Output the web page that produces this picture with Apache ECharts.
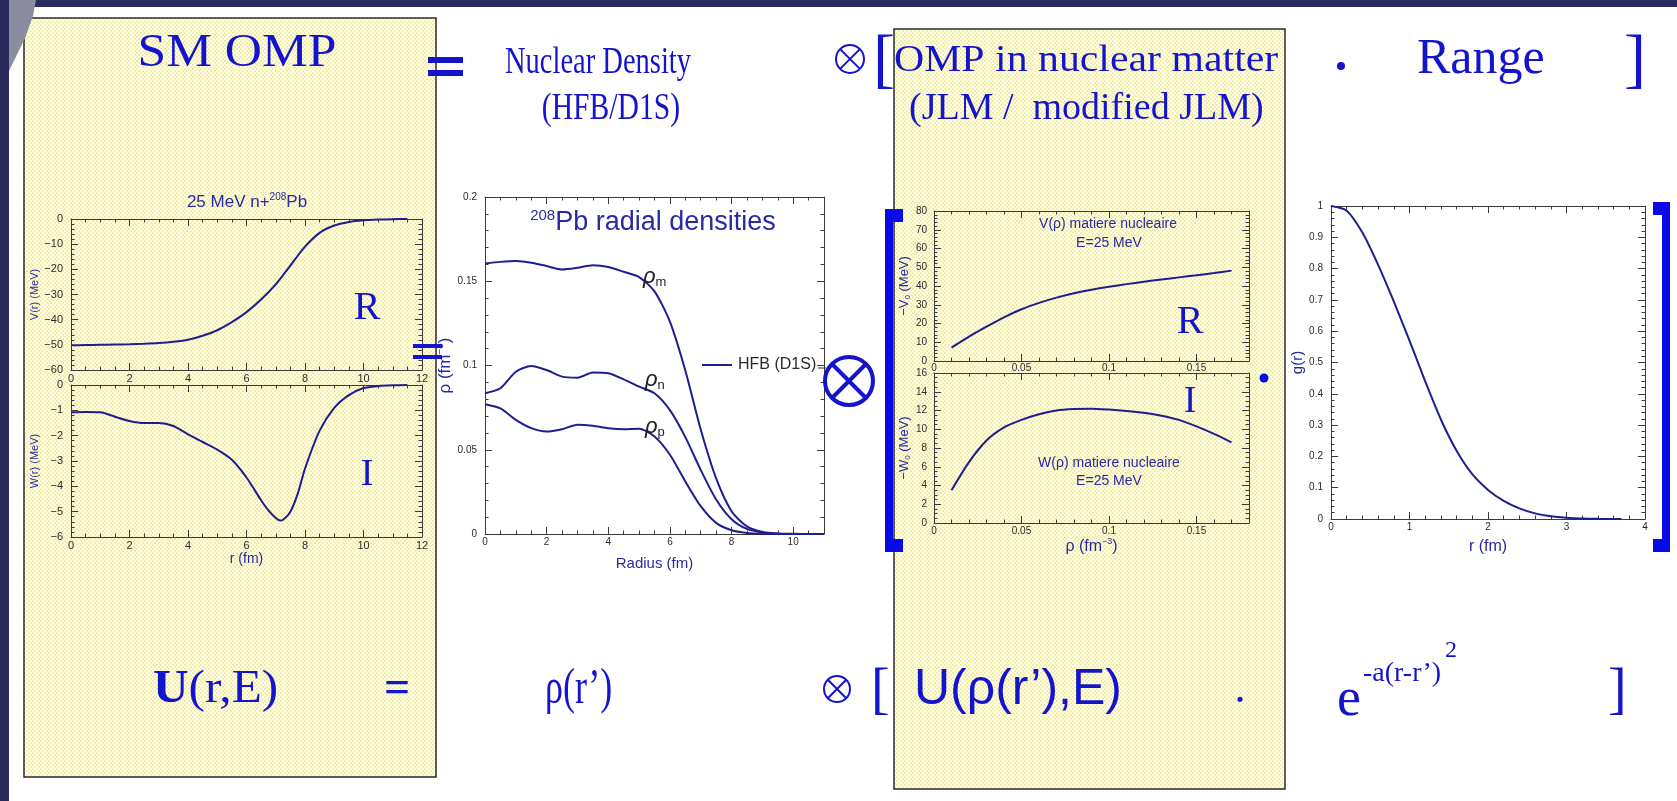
<!DOCTYPE html>
<html>
<head>
<meta charset="utf-8">
<title>SM OMP</title>
<script src="https://cdn.jsdelivr.net/npm/echarts@6/dist/echarts.min.js"></script>
<style>
  html, body { margin: 0; padding: 0; background: #ffffff; }
  #chart { width: 1677px; height: 801px; }
</style>
</head>
<body>
<div id="chart"></div>
<script>
// ---- V(r), W(r): 25 MeV n + 208Pb optical potential ----
const potR = [0, 0.5, 1, 1.5, 2, 2.5, 3, 3.5, 4, 4.5, 5, 5.5, 6, 6.5, 7, 7.5, 8, 8.5, 9, 9.5, 10, 10.5, 11, 11.5];
const potV = [-50.2, -50.1, -50.0, -49.9, -49.8, -49.6, -49.3, -48.8, -48.0, -46.4, -44.2, -41.0, -37.0, -32.0, -26.0, -18.5, -11.0, -5.5, -2.6, -1.2, -0.5, -0.2, -0.05, 0];
const potWR = [0, 0.5, 1, 1.5, 2, 2.5, 3, 3.5, 4, 4.5, 5, 5.5, 6, 6.5, 6.75, 7, 7.15, 7.25, 7.5, 7.75, 8, 8.5, 9, 9.5, 10, 10.5, 11, 11.5];
const potW = [-1.08, -1.07, -1.08, -1.25, -1.42, -1.5, -1.5, -1.62, -1.95, -2.25, -2.55, -2.95, -3.65, -4.55, -4.95, -5.25, -5.35, -5.32, -5.0, -4.3, -3.3, -1.8, -0.9, -0.4, -0.12, -0.04, -0.01, 0];

// ---- 208Pb radial densities (HFB D1S) ----
const densR = [0, 0.5, 1, 1.5, 2, 2.5, 3, 3.5, 4, 4.5, 5, 5.5, 6, 6.5, 7, 7.5, 8, 8.5, 9, 9.5, 10, 10.5, 11];
const rhoM = [0.1605, 0.1615, 0.162, 0.161, 0.159, 0.157, 0.158, 0.1595, 0.1585, 0.1556, 0.1525, 0.144, 0.126, 0.097, 0.062, 0.033, 0.0135, 0.0045, 0.0012, 0.0003, 0.0001, 0, 0];
const rhoN = [0.0835, 0.0865, 0.0963, 0.0997, 0.0973, 0.0934, 0.0928, 0.0958, 0.0954, 0.0918, 0.0875, 0.0835, 0.0735, 0.0575, 0.038, 0.0205, 0.0088, 0.003, 0.0009, 0.0002, 0.00005, 0, 0];
const rhoP = [0.077, 0.0745, 0.0677, 0.0628, 0.0608, 0.0622, 0.0648, 0.0642, 0.0628, 0.0622, 0.0624, 0.0578, 0.047, 0.0312, 0.0165, 0.0066, 0.0022, 0.0006, 0.0001, 0, 0, 0, 0];

// ---- JLM nuclear-matter potential at E = 25 MeV ----
const jlmRho = [0.01, 0.02, 0.03, 0.04, 0.05, 0.06, 0.07, 0.08, 0.09, 0.10, 0.11, 0.12, 0.13, 0.14, 0.15, 0.16, 0.17];
const jlmV = [7.1, 13.0, 18.3, 23.3, 27.6, 31.0, 33.8, 36.1, 38.0, 39.6, 41.0, 42.3, 43.5, 44.6, 45.7, 46.9, 48.2];
const jlmW = [3.5, 6.5, 8.8, 10.2, 11.0, 11.6, 12.0, 12.15, 12.2, 12.1, 11.95, 11.75, 11.45, 11.0, 10.3, 9.5, 8.6];

// ---- range function g(r) ----
const rangeR = [0, 0.2, 0.4, 0.6, 0.8, 1.0, 1.2, 1.4, 1.6, 1.8, 2.0, 2.2, 2.4, 2.6, 2.8, 3.0, 3.2, 3.4, 3.6, 3.7];
const rangeG = [1, 0.985, 0.915, 0.812, 0.695, 0.57, 0.44, 0.318, 0.218, 0.143, 0.093, 0.058, 0.034, 0.018, 0.009, 0.004, 0.0015, 0.0005, 0.0002, 0];

// ---- tick label text ----
const potVTicks = ['0', '−10', '−20', '−30', '−40', '−50', '−60'];
const potWTicks = ['0', '−1', '−2', '−3', '−4', '−5', '−6'];

const zip = (xs, ys) => xs.map((x, i) => [x, ys[i]]);

const SERIF = '"Liberation Serif", "Times New Roman", serif';
const SANS = '"Liberation Sans", Arial, sans-serif';
const BLUE = '#1414cc';
const PLOTBLUE = '#2a2aa0';
const LINE = '#1e1e8e';
const FRAME = '#3a3a3a';

// fine dotted yellow fill of the slide boxes
const pat = document.createElement('canvas');
pat.width = 4; pat.height = 4;
const pc = pat.getContext('2d');
pc.fillStyle = '#fffef0'; pc.fillRect(0, 0, 4, 4);
pc.fillStyle = '#f4efa6'; pc.fillRect(0, 0, 2, 2); pc.fillRect(2, 2, 2, 2);
const dotted = { image: pat, repeat: 'repeat' };

const grids = [
  { left: 71, top: 219, width: 351, height: 151 },   // V(r)
  { left: 71, top: 385, width: 351, height: 152 },   // W(r)
  { left: 485, top: 197, width: 339, height: 337 },  // densities
  { left: 934, top: 211, width: 315, height: 150 },  // V(rho)
  { left: 934, top: 373, width: 315, height: 150 },  // W(rho)
  { left: 1331, top: 206, width: 314, height: 313 }  // g(r)
];

const xAxes = [];
const yAxes = [];

function frameAxis(gi, c, pos, labelled) {
  return {
    type: 'value', gridIndex: gi, position: pos,
    min: c.min, max: c.max, interval: c.interval,
    axisLine: { show: true, onZero: false, lineStyle: { color: FRAME, width: 1 } },
    axisTick: { show: true, inside: true, length: 7, lineStyle: { color: FRAME, width: 1 } },
    minorTick: { show: true, splitNumber: c.minor, length: 3.5, lineStyle: { color: FRAME, width: 1 } },
    splitLine: { show: false },
    minorSplitLine: { show: false },
    axisLabel: labelled ? {
      show: true, margin: c.margin, color: '#2b2b2b', fontFamily: SANS, fontSize: c.fs,
      formatter: c.fmt
    } : { show: false },
    name: labelled ? c.name : '',
    nameLocation: 'middle',
    nameGap: c.gap,
    nameRotate: pos === 'left' ? 90 : 0,
    nameTextStyle: c.nameStyle || {}
  };
}

function addAxes(gi, xc, yc) {
  xAxes.push(frameAxis(gi, xc, 'bottom', true), frameAxis(gi, xc, 'top', false));
  yAxes.push(frameAxis(gi, yc, 'left', true), frameAxis(gi, yc, 'right', false));
}

const nameSans = (fs) => ({ color: PLOTBLUE, fontFamily: SANS, fontSize: fs });
const dec = (v) => (v === 0 ? '0' : String(+v.toFixed(2)));

// V(r)
addAxes(0,
  { min: 0, max: 12, interval: 2, minor: 4, margin: 3, fs: 11, fmt: (v) => String(v), name: '', gap: 0 },
  { min: -60, max: 0, interval: 10, minor: 5, margin: 8, fs: 11, fmt: (v) => potVTicks[Math.round(-v / 10)],
    name: 'V(r) (MeV)', gap: 31, nameStyle: nameSans(11) });
// W(r)
addAxes(1,
  { min: 0, max: 12, interval: 2, minor: 4, margin: 3, fs: 11, fmt: (v) => String(v),
    name: 'r (fm)', gap: 13, nameStyle: nameSans(14) },
  { min: -6, max: 0, interval: 1, minor: 5, margin: 8, fs: 11, fmt: (v) => potWTicks[Math.round(-v)],
    name: 'W(r) (MeV)', gap: 31, nameStyle: nameSans(11) });
// densities
addAxes(2,
  { min: 0, max: 11, interval: 2, minor: 4, margin: 3, fs: 10, fmt: (v) => (v > 10 ? '' : String(v)),
    name: 'Radius (fm)', gap: 22, nameStyle: nameSans(15) },
  { min: 0, max: 0.2, interval: 0.05, minor: 5, margin: 8, fs: 10, fmt: dec,
    name: '{a|ρ (fm}{s|−3}{a|)}', gap: 24,
    nameStyle: { color: PLOTBLUE, fontFamily: SANS, fontSize: 17,
      rich: { a: { color: PLOTBLUE, fontFamily: SANS, fontSize: 17, lineHeight: 20 },
              s: { color: PLOTBLUE, fontFamily: SANS, fontSize: 10, verticalAlign: 'top', lineHeight: 20 } } } });
// V(rho)
addAxes(3,
  { min: 0, max: 0.18, interval: 0.05, minor: 5, margin: 2, fs: 10, fmt: (v) => (v > 0.16 ? '' : dec(v)), name: '', gap: 0 },
  { min: 0, max: 80, interval: 10, minor: 5, margin: 7, fs: 10, fmt: (v) => String(v),
    name: '{a|−V}{s|0}{a| (MeV)}', gap: 22,
    nameStyle: { color: PLOTBLUE, fontFamily: SANS, fontSize: 13,
      rich: { a: { color: PLOTBLUE, fontFamily: SANS, fontSize: 13, lineHeight: 16 },
              s: { color: PLOTBLUE, fontFamily: SANS, fontSize: 8, verticalAlign: 'bottom', lineHeight: 16 } } } });
// W(rho)
addAxes(4,
  { min: 0, max: 0.18, interval: 0.05, minor: 5, margin: 3, fs: 10, fmt: (v) => (v > 0.16 ? '' : dec(v)),
    name: '{a|ρ (fm}{s|−3}{a|)}', gap: 12,
    nameStyle: { color: PLOTBLUE, fontFamily: SANS, fontSize: 16,
      rich: { a: { color: PLOTBLUE, fontFamily: SANS, fontSize: 16, lineHeight: 19 },
              s: { color: PLOTBLUE, fontFamily: SANS, fontSize: 9, verticalAlign: 'top', lineHeight: 19 } } } },
  { min: 0, max: 16, interval: 2, minor: 4, margin: 7, fs: 10, fmt: (v) => String(v),
    name: '{a|−W}{s|0}{a| (MeV)}', gap: 22,
    nameStyle: { color: PLOTBLUE, fontFamily: SANS, fontSize: 13,
      rich: { a: { color: PLOTBLUE, fontFamily: SANS, fontSize: 13, lineHeight: 16 },
              s: { color: PLOTBLUE, fontFamily: SANS, fontSize: 8, verticalAlign: 'bottom', lineHeight: 16 } } } });
// g(r)
addAxes(5,
  { min: 0, max: 4, interval: 1, minor: 5, margin: 3, fs: 10, fmt: (v) => String(v),
    name: 'r (fm)', gap: 20, nameStyle: nameSans(16) },
  { min: 0, max: 1, interval: 0.1, minor: 5, margin: 8, fs: 10, fmt: (v) => (v === 0 || v === 1 ? String(v) : v.toFixed(1)),
    name: 'g(r)', gap: 24, nameStyle: nameSans(15) });

function curve(gi, data, width) {
  return {
    type: 'line', xAxisIndex: gi * 2, yAxisIndex: gi * 2, data: data,
    showSymbol: false, smooth: 0.25,
    lineStyle: { color: LINE, width: width || 2 }, z: 5, silent: true
  };
}

const series = [
  curve(0, zip(potR, potV)),
  curve(1, zip(potWR, potW)),
  curve(2, zip(densR, rhoM)),
  curve(2, zip(densR, rhoN)),
  curve(2, zip(densR, rhoP)),
  curve(3, zip(jlmRho, jlmV)),
  curve(4, zip(jlmRho, jlmW)),
  curve(5, zip(rangeR, rangeG))
];

// ---- slide decorations and equation text ----
function txt(text, x, y, size, opts) {
  const o = opts || {};
  return {
    type: 'text', z: 50, silent: true,
    x: x, y: y, scaleX: o.sx || 1, scaleY: o.sy || 1,
    style: {
      text: text, fill: o.color || BLUE,
      font: (o.weight || 'normal') + ' ' + size + 'px ' + (o.family || SERIF),
      textAlign: o.align || 'left', textVerticalAlign: 'middle',
      rich: o.rich
    }
  };
}
function rect(x, y, w, h, fill, z) {
  return { type: 'rect', z: z || 50, silent: true, shape: { x: x, y: y, width: w, height: h }, style: { fill: fill } };
}
function otimes(cx, cy, r, lw) {
  const d = r * 0.7071;
  return [
    { type: 'circle', z: 50, silent: true, shape: { cx: cx, cy: cy, r: r }, style: { fill: 'none', stroke: BLUE, lineWidth: lw } },
    { type: 'line', z: 50, silent: true, shape: { x1: cx - d, y1: cy - d, x2: cx + d, y2: cy + d }, style: { stroke: BLUE, lineWidth: lw } },
    { type: 'line', z: 50, silent: true, shape: { x1: cx + d, y1: cy - d, x2: cx - d, y2: cy + d }, style: { stroke: BLUE, lineWidth: lw } }
  ];
}

const rhoRich = {
  r: { fontFamily: SANS, fontSize: 22, fontStyle: 'italic', fill: '#222', lineHeight: 24 },
  s: { fontFamily: SANS, fontSize: 13, fill: '#222', verticalAlign: 'bottom', lineHeight: 24 }
};

const graphics = [
  // frame of the slide template
  rect(0, 0, 1677, 7, '#2b2a5c', 1),
  rect(0, 0, 9, 801, '#2b2a5c', 1),
  { type: 'polygon', z: 2, silent: true,
    shape: { points: [[9, 0], [36, 0], [33, 16], [25, 38], [9, 71]] }, style: { fill: '#8c8ca0' } },
  // the two highlighted boxes
  { type: 'rect', z: -10, silent: true, shape: { x: 24, y: 18, width: 412, height: 759 },
    style: { fill: dotted, stroke: '#2a2a2a', lineWidth: 1.5 } },
  { type: 'rect', z: -10, silent: true, shape: { x: 894, y: 29, width: 391, height: 760 },
    style: { fill: dotted, stroke: '#2a2a2a', lineWidth: 1.5 } },

  // top row of the equation
  txt('SM OMP', 237, 54, 46, { align: 'center', sx: 1.12 }),
  rect(428, 57, 35, 6, BLUE),
  rect(428, 70, 35, 6, BLUE),
  txt('Nuclear Density', 505, 63, 38, { sx: 0.75 }),
  txt('(HFB/D1S)', 611, 109, 38, { align: 'center', sx: 0.78 }),
  ...otimes(850, 59, 14, 2),
  txt('[', 873, 63, 66),
  txt('OMP in nuclear matter', 894, 61, 38, { sx: 1.10 }),
  txt('(JLM /  modified JLM)', 909, 109, 38),
  { type: 'circle', z: 50, silent: true, shape: { cx: 1341, cy: 66, r: 4 }, style: { fill: BLUE } },
  txt('Range', 1417, 60, 50),
  txt(']', 1624, 63, 66),

  // plot annotations
  txt('{a|25 MeV n+}{s|208}{a|Pb}', 247, 202, 17, { align: 'center', color: PLOTBLUE, family: SANS,
    rich: { a: { fontFamily: SANS, fontSize: 17, fill: PLOTBLUE, lineHeight: 20 },
            s: { fontFamily: SANS, fontSize: 10, fill: PLOTBLUE, verticalAlign: 'top', lineHeight: 20 } } }),
  txt('R', 367, 308, 40, { align: 'center' }),
  txt('I', 367, 475, 38, { align: 'center' }),
  rect(413, 344, 29, 4, BLUE),
  rect(413, 355, 29, 4, BLUE),

  txt('{s|208}{a|Pb radial densities}', 653, 223, 27, { align: 'center', color: PLOTBLUE, family: SANS,
    rich: { a: { fontFamily: SANS, fontSize: 27, fill: PLOTBLUE, lineHeight: 30 },
            s: { fontFamily: SANS, fontSize: 15, fill: PLOTBLUE, verticalAlign: 'top', lineHeight: 30 } } }),
  txt('{r|ρ}{s|m}', 643, 277, 22, { color: '#222', family: SANS, rich: rhoRich }),
  txt('{r|ρ}{s|n}', 645, 380, 22, { color: '#222', family: SANS, rich: rhoRich }),
  txt('{r|ρ}{s|p}', 645, 427, 22, { color: '#222', family: SANS, rich: rhoRich }),
  { type: 'line', z: 50, silent: true, shape: { x1: 702, y1: 365, x2: 732, y2: 365 }, style: { stroke: LINE, lineWidth: 2 } },
  txt('HFB (D1S)', 738, 365, 16, { color: '#2b2b2b', family: SANS }),
  { type: 'line', z: 50, silent: true, shape: { x1: 818, y1: 368, x2: 826, y2: 368 }, style: { stroke: '#2b2b2b', lineWidth: 1 } },

  // big circled product between the panels
  ...otimes(849, 381, 24, 4),

  // square brackets around the integrand panels
  rect(885, 209, 8, 343, '#0a0ae6'),
  rect(885, 209, 18, 13, '#0a0ae6'),
  rect(885, 539, 18, 13, '#0a0ae6'),
  rect(1662, 202, 8, 350, '#0a0ae6'),
  rect(1653, 202, 17, 13, '#0a0ae6'),
  rect(1653, 539, 17, 13, '#0a0ae6'),
  { type: 'circle', z: 50, silent: true, shape: { cx: 1264, cy: 378, r: 4.5 }, style: { fill: '#0a0ae6' } },

  txt('V(ρ) matiere nucleaire', 1108, 224, 14, { align: 'center', color: PLOTBLUE, family: SANS }),
  txt('E=25 MeV', 1109, 243, 14, { align: 'center', color: PLOTBLUE, family: SANS }),
  txt('W(ρ) matiere nucleaire', 1109, 463, 14, { align: 'center', color: PLOTBLUE, family: SANS }),
  txt('E=25 MeV', 1109, 481, 14, { align: 'center', color: PLOTBLUE, family: SANS }),
  txt('R', 1190, 322, 40, { align: 'center' }),
  txt('I', 1190, 402, 38, { align: 'center' }),

  // bottom row of the equation
  txt('{b|U}{a|(r,E)}', 153, 690, 46, { sx: 1.07,
    rich: { b: { fontFamily: SERIF, fontSize: 46, fontWeight: 'bold', fill: BLUE },
            a: { fontFamily: SERIF, fontSize: 46, fill: BLUE } } }),
  txt('=', 397, 690, 46, { align: 'center', weight: 'bold' }),
  txt('ρ(r’)', 545, 690, 50, { sx: 0.72 }),
  ...otimes(837, 689, 13, 2),
  txt('[', 871, 692, 56),
  txt('U(ρ(r’),E)', 914, 690, 50, { family: SANS }),
  txt('.', 1240, 690, 44, { align: 'center' }),
  txt('e', 1337, 701, 54),
  txt('-a(r-r’)', 1363, 674, 28),
  txt('2', 1445, 651, 24),
  txt(']', 1608, 692, 56)
];

const chart = echarts.init(document.getElementById('chart'), null, { renderer: 'canvas' });
chart.setOption({
  animation: false,
  backgroundColor: '#ffffff',
  grid: grids.map((g) => Object.assign({ containLabel: false, show: false }, g)),
  xAxis: xAxes,
  yAxis: yAxes,
  series: series,
  graphic: { elements: graphics }
});
</script>
</body>
</html>
